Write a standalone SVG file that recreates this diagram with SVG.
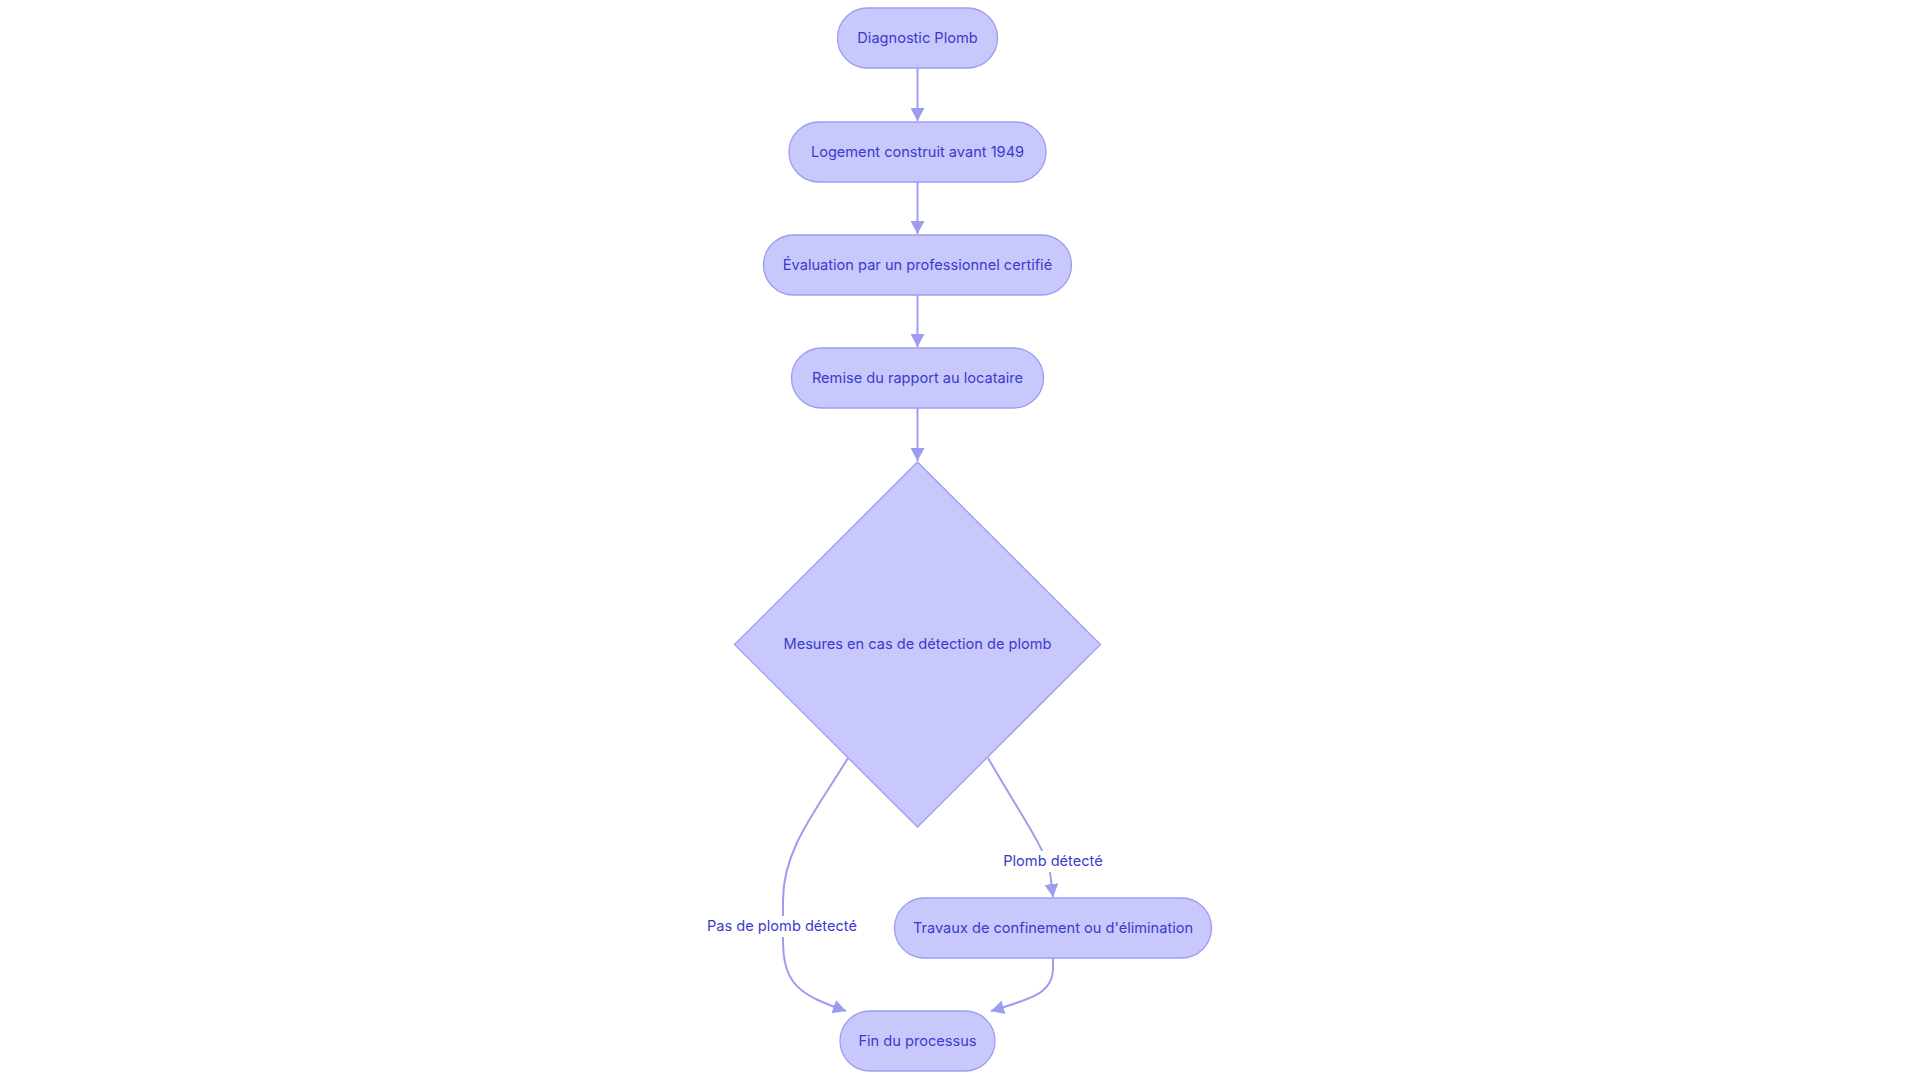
<svg xmlns="http://www.w3.org/2000/svg" width="1920" height="1083" viewBox="0 0 1920 1083">
<style>
.node{fill:#c8c8fd;stroke:#9d9df0;stroke-width:1.3}
.lbl{font-family:Inter,"Noto Sans",sans-serif;font-size:14.6px;fill:#3a3acc;text-anchor:middle;dominant-baseline:central}
.edge{fill:none;stroke:#9d9df0;stroke-width:2}
.elbl{fill:#ffffff}
</style>
<defs>
<marker id="arr" viewBox="0 0 13 14" refX="13" refY="7" markerWidth="13" markerHeight="14" markerUnits="userSpaceOnUse" orient="auto">
<path d="M0,0 L13,7 L0,14 Z" fill="#9d9df0"/>
</marker>
</defs>
<rect width="1920" height="1083" fill="#ffffff"/>
<g id="connectors">
<path class="edge" d="M917.5,68 L917.5,121" marker-end="url(#arr)"/>
<path class="edge" d="M917.5,182 L917.5,234" marker-end="url(#arr)"/>
<path class="edge" d="M917.5,295 L917.5,347" marker-end="url(#arr)"/>
<path class="edge" d="M917.5,408 L917.5,461" marker-end="url(#arr)"/>
<path class="edge" d="M848,758 C815,812 783,850 783,900 L783,940 C783,985 800,995 846,1011" marker-end="url(#arr)"/>
<path class="edge" d="M988,758 C1018,810 1046,850 1050,872 L1053,897" marker-end="url(#arr)"/>
<path class="edge" d="M1053,958 L1053,968 C1053,992 1035,998 991,1011" marker-end="url(#arr)"/>
<rect class="elbl" x="1002" y="851" width="102" height="21"/>
<text class="lbl" x="1053" y="861">Plomb détecté</text>
<rect class="elbl" x="708" y="916" width="148" height="21"/>
<text class="lbl" x="782" y="926">Pas de plomb détecté</text>
</g>
<g id="n1"><rect class="node" x="837.5" y="8" width="160" height="60" rx="30"/><text class="lbl" x="917.5" y="37.5">Diagnostic Plomb</text></g>
<g id="n2"><rect class="node" x="789" y="122" width="257" height="60" rx="30"/><text class="lbl" x="917.5" y="151.5">Logement construit avant 1949</text></g>
<g id="n3"><rect class="node" x="763.5" y="235" width="308" height="60" rx="30"/><text class="lbl" x="917.5" y="264.5">Évaluation par un professionnel certifié</text></g>
<g id="n4"><rect class="node" x="791.5" y="348" width="252" height="60" rx="30"/><text class="lbl" x="917.5" y="377.5">Remise du rapport au locataire</text></g>
<g id="n5"><path class="node" d="M917.5,462 L1100.5,644.5 L917.5,827 L734.5,644.5 Z"/><text class="lbl" x="917.5" y="643.5">Mesures en cas de détection de plomb</text></g>
<g id="n6"><rect class="node" x="894.5" y="898" width="317" height="60" rx="30"/><text class="lbl" x="1053" y="927.5">Travaux de confinement ou d'élimination</text></g>
<g id="n7"><rect class="node" x="840" y="1011" width="155" height="60" rx="30"/><text class="lbl" x="917.5" y="1040.5">Fin du processus</text></g>
</svg>
